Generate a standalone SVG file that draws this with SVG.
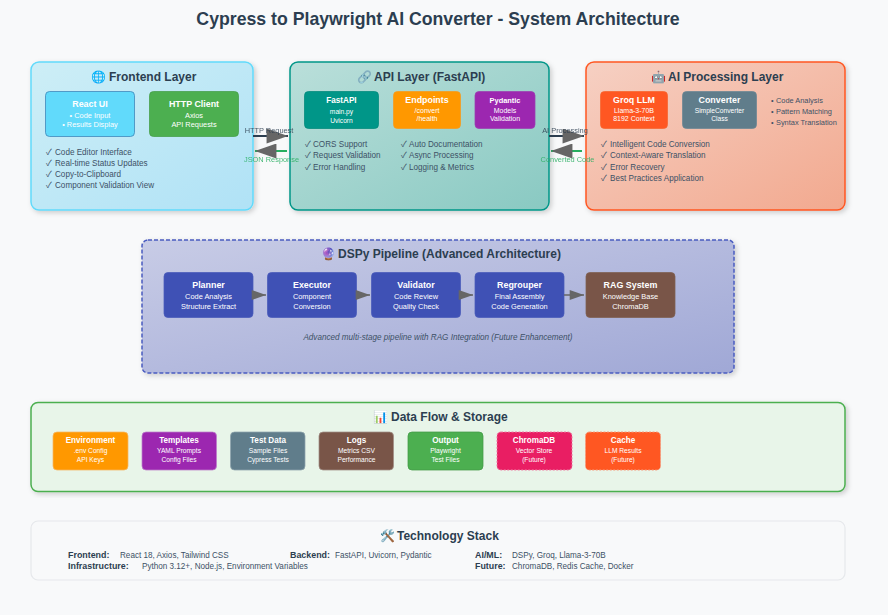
<svg xmlns="http://www.w3.org/2000/svg" width="888" height="615" viewBox="0 0 888 615">
<style>
text{font-family:"Liberation Sans",Arial,"Noto Color Emoji",sans-serif}
.c{text-anchor:middle}
.main{font-size:17.7px;font-weight:bold;fill:#2c3e50}
.h{font-size:12px;font-weight:bold;fill:#2c3e50}
.t{font-size:8.9px;font-weight:bold;fill:#fff;text-anchor:middle}
.t8{font-size:8.15px;font-weight:bold;fill:#fff;text-anchor:middle}
.s{font-size:6.67px;fill:#fff;text-anchor:middle}
.m{font-size:7.4px;fill:#fff;text-anchor:middle}
.e{font-size:7px;fill:#fff;text-anchor:middle}
.l{font-size:8.15px;fill:#3d5166}
.ck{font-family:"Noto Sans CJK JP","DejaVu Sans",sans-serif;font-size:8.5px}
.b{font-size:7.4px;fill:#3d5166}
.lb{font-size:7.4px;opacity:.85}
.k{font-size:8.9px;font-weight:bold;fill:#2c3e50}
.v{font-size:8.15px;fill:#3d5166}
.i{font-size:8.15px;font-style:italic;fill:#3d5166;text-anchor:middle}
.group{stroke-width:1.5;filter:url(#sh)}
.n{stroke-width:.75}
.fut{stroke-width:1;stroke-dasharray:2 1.500}
.conn{fill:none;stroke-width:2}
.pipe{fill:none;stroke:#666;stroke-width:1.500}
</style>
<defs>
<filter id="sh" x="-5%" y="-5%" width="110%" height="112%"><feDropShadow dx="2" dy="2" stdDeviation="2.5" flood-color="#000" flood-opacity=".18"/></filter>
<linearGradient id="gF" x1="0" y1="0" x2="1" y2="1"><stop offset="0" stop-color="#cdeef6"/><stop offset="1" stop-color="#b0e2f6"/></linearGradient>
<linearGradient id="gA" x1="0" y1="0" x2="1" y2="1"><stop offset="0" stop-color="#badfda"/><stop offset="1" stop-color="#89c9c2"/></linearGradient>
<linearGradient id="gP" x1="0" y1="0" x2="1" y2="1"><stop offset="0" stop-color="#f6d0c3"/><stop offset="1" stop-color="#f2a98f"/></linearGradient>
<linearGradient id="gD" x1="0" y1="0" x2="1" y2="1"><stop offset="0" stop-color="#c8cce6"/><stop offset="1" stop-color="#a0a8d6"/></linearGradient>
<marker id="ah" viewBox="0 0 10 7" refX="10" refY="3.500" markerUnits="userSpaceOnUse" markerWidth="22" markerHeight="15" orient="auto"><polygon points="0 0,10 3.500,0 7" fill="#666"/></marker>
<marker id="as" viewBox="0 0 10 7" refX="10" refY="3.500" markerUnits="userSpaceOnUse" markerWidth="15" markerHeight="10" orient="auto"><polygon points="0 0,10 3.500,0 7" fill="#666"/></marker>
</defs>
<rect width="888" height="615" fill="#f8f9fa"/>
<text class="main c" x="438" y="25">Cypress to Playwright AI Converter - System Architecture</text>

<g id="frontend-layer">
<rect class="group" x="31" y="62" width="222" height="148" rx="8" fill="url(#gF)" stroke="#61dafb"/>
<text class="h" x="91" y="81">🌐<tspan x="109">Frontend Layer</tspan></text>
<text class="l" x="46" y="155"><tspan class="ck">✓</tspan><tspan x="55">Code Editor Interface</tspan></text>
<text class="l" x="46" y="166"><tspan class="ck">✓</tspan><tspan x="55">Real-time Status Updates</tspan></text>
<text class="l" x="46" y="177"><tspan class="ck">✓</tspan><tspan x="55">Copy-to-Clipboard</tspan></text>
<text class="l" x="46" y="188"><tspan class="ck">✓</tspan><tspan x="55">Component Validation View</tspan></text>
</g>
<g id="react-ui"><rect class="n" x="45.500" y="91.500" width="89" height="45" rx="4" fill="#61dafb" stroke="#3b82b5"/><text class="t" x="90" y="107">React UI</text><text class="m" x="90" y="118">• Code Input</text><text class="m" x="90" y="127">• Results Display</text></g>
<g id="http-client"><rect class="n" x="149.500" y="91.500" width="89" height="45" rx="4" fill="#4caf50" stroke="#449e48"/><text class="t" x="194" y="107">HTTP Client</text><text class="m" x="194" y="118">Axios</text><text class="m" x="194" y="127">API Requests</text></g>

<g id="api-layer">
<rect class="group" x="290" y="62" width="259" height="148" rx="8" fill="url(#gA)" stroke="#009688"/>
<text class="h" x="357" y="81">🔗<tspan x="374">API Layer (FastAPI)</tspan></text>
<text class="l" x="305" y="147"><tspan class="ck">✓</tspan><tspan x="313">CORS Support</tspan></text>
<text class="l" x="305" y="158"><tspan class="ck">✓</tspan><tspan x="313">Request Validation</tspan></text>
<text class="l" x="305" y="170"><tspan class="ck">✓</tspan><tspan x="313">Error Handling</tspan></text>
<text class="l" x="401" y="147"><tspan class="ck">✓</tspan><tspan x="409">Auto Documentation</tspan></text>
<text class="l" x="401" y="158"><tspan class="ck">✓</tspan><tspan x="409">Async Processing</tspan></text>
<text class="l" x="401" y="170"><tspan class="ck">✓</tspan><tspan x="409">Logging &amp; Metrics</tspan></text>
</g>
<g id="fastapi"><rect class="n" x="304.500" y="91.500" width="74" height="37" rx="4" fill="#009688" stroke="#00897b"/><text class="t8" x="341.500" y="103">FastAPI</text><text class="s" x="341.500" y="114">main.py</text><text class="s" x="341.500" y="123">Uvicorn</text></g>
<g id="endpoints"><rect class="n" x="393.500" y="91.500" width="67" height="37" rx="4" fill="#ff9800" stroke="#f59a1c"/><text class="t" x="427" y="103">Endpoints</text><text class="e" x="427" y="113">/convert</text><text class="e" x="427" y="121">/health</text></g>
<g id="pydantic"><rect class="n" x="475" y="91.500" width="60" height="37" rx="4" fill="#9c27b0" stroke="#9c3fb0"/><text class="t8" x="505" y="103" style="font-size:7.4px">Pydantic</text><text class="e" x="505" y="113">Models</text><text class="e" x="505" y="121">Validation</text></g>

<g id="ai-layer">
<rect class="group" x="586" y="62" width="259" height="148" rx="8" fill="url(#gP)" stroke="#ff5722"/>
<text class="h" x="651" y="81">🤖<tspan x="668">AI Processing Layer</tspan></text>
<text class="b" x="771" y="103">•<tspan x="776">Code Analysis</tspan></text>
<text class="b" x="771" y="114">•<tspan x="776">Pattern Matching</tspan></text>
<text class="b" x="771" y="125">•<tspan x="776">Syntax Translation</tspan></text>
<text class="l" x="601" y="147"><tspan class="ck">✓</tspan><tspan x="610">Intelligent Code Conversion</tspan></text>
<text class="l" x="601" y="158"><tspan class="ck">✓</tspan><tspan x="610">Context-Aware Translation</tspan></text>
<text class="l" x="601" y="170"><tspan class="ck">✓</tspan><tspan x="610">Error Recovery</tspan></text>
<text class="l" x="601" y="181"><tspan class="ck">✓</tspan><tspan x="610">Best Practices Application</tspan></text>
</g>
<g id="groq-llm"><rect class="n" x="600.500" y="91.500" width="67" height="37" rx="4" fill="#ff5722" stroke="#f5652f"/><text class="t" x="634" y="103">Groq LLM</text><text class="e" x="634" y="113">Llama-3-70B</text><text class="e" x="634" y="121">8192 Context</text></g>
<g id="converter"><rect class="n" x="682.500" y="91.500" width="74" height="37" rx="4" fill="#607d8b" stroke="#6b8794"/><text class="t" x="719.500" y="103">Converter</text><text class="s" x="719.500" y="113">SimpleConverter</text><text class="s" x="719.500" y="121">Class</text></g>

<g id="dspy-pipeline">
<rect class="group" x="142" y="240" width="592" height="133" rx="6" fill="url(#gD)" stroke="#4a5cc0" stroke-dasharray="4 2"/>
<text class="h" x="321" y="258">🔮<tspan x="338">DSPy Pipeline (Advanced Architecture)</tspan></text>
<text class="i" x="438" y="340">Advanced multi-stage pipeline with RAG Integration (Future Enhancement)</text>
</g>
<g id="planner"><rect class="n" x="164" y="272.500" width="89" height="45" rx="4" fill="#3f51b5" stroke="#4a5bba"/><text class="t" x="208.500" y="288">Planner</text><text class="m" x="208.500" y="299">Code Analysis</text><text class="m" x="208.500" y="309">Structure Extract</text></g>
<g id="executor"><rect class="n" x="267.500" y="272.500" width="89" height="45" rx="4" fill="#3f51b5" stroke="#4a5bba"/><text class="t" x="312" y="288">Executor</text><text class="m" x="312" y="299">Component</text><text class="m" x="312" y="309">Conversion</text></g>
<g id="validator"><rect class="n" x="371.500" y="272.500" width="89" height="45" rx="4" fill="#3f51b5" stroke="#4a5bba"/><text class="t" x="416" y="288">Validator</text><text class="m" x="416" y="299">Code Review</text><text class="m" x="416" y="309">Quality Check</text></g>
<g id="regrouper"><rect class="n" x="475" y="272.500" width="89" height="45" rx="4" fill="#3f51b5" stroke="#4a5bba"/><text class="t" x="519.500" y="288">Regrouper</text><text class="m" x="519.500" y="299">Final Assembly</text><text class="m" x="519.500" y="309">Code Generation</text></g>
<g id="rag-system"><rect class="n" x="586" y="272.500" width="89" height="45" rx="4" fill="#795548" stroke="#7f6052"/><text class="t" x="630.500" y="288">RAG System</text><text class="m" x="630.500" y="299">Knowledge Base</text><text class="m" x="630.500" y="309">ChromaDB</text></g>

<g id="data-flow">
<rect class="group" x="31" y="402.500" width="814" height="89" rx="7" fill="#e8f5e9" stroke="#4caf50"/>
<text class="h" x="373" y="421">📊<tspan x="391">Data Flow &amp; Storage</tspan></text>
</g>
<g id="environment"><rect class="n" x="53" y="432" width="75" height="38" rx="4" fill="#ff9800" stroke="#f5b563"/><text class="t8" x="90.500" y="443">Environment</text><text class="s" x="90.500" y="453">.env Config</text><text class="s" x="90.500" y="462">API Keys</text></g>
<g id="templates"><rect class="n" x="142" y="432" width="74.500" height="38" rx="4" fill="#9c27b0" stroke="#bd7ecb"/><text class="t8" x="179" y="443">Templates</text><text class="s" x="179" y="453">YAML Prompts</text><text class="s" x="179" y="462">Config Files</text></g>
<g id="test-data"><rect class="n" x="230.500" y="432" width="74.500" height="38" rx="4" fill="#607d8b" stroke="#8fa4ae"/><text class="t8" x="268" y="443">Test Data</text><text class="s" x="268" y="453">Sample Files</text><text class="s" x="268" y="462">Cypress Tests</text></g>
<g id="logs"><rect class="n" x="319" y="432" width="74.500" height="38" rx="4" fill="#795548" stroke="#a18f87"/><text class="t8" x="356.500" y="443">Logs</text><text class="s" x="356.500" y="453">Metrics CSV</text><text class="s" x="356.500" y="462">Performance</text></g>
<g id="output"><rect class="n" x="408" y="432" width="75" height="38" rx="4" fill="#4caf50" stroke="#439a47"/><text class="t8" x="445.500" y="443">Output</text><text class="s" x="445.500" y="453">Playwright</text><text class="s" x="445.500" y="462">Test Files</text></g>
<g id="chromadb"><rect class="fut" x="497" y="432" width="75" height="38" rx="4" fill="#e91e63" stroke="#ee7ca3"/><text class="t8" x="534" y="443">ChromaDB</text><text class="s" x="534" y="453">Vector Store</text><text class="s" x="534" y="462">(Future)</text></g>
<g id="cache"><rect class="fut" x="585.500" y="432" width="75" height="38" rx="4" fill="#ff5722" stroke="#f59a7c"/><text class="t8" x="623" y="443">Cache</text><text class="s" x="623" y="453">LLM Results</text><text class="s" x="623" y="462">(Future)</text></g>

<g id="technology-stack">
<rect x="31" y="521" width="814" height="59" rx="7" fill="#f8f9fa" stroke="#e6e8eb" stroke-width="1.200"/>
<text class="h" x="380" y="540">🛠️<tspan x="397">Technology Stack</tspan></text>
<text class="k" x="68" y="558">Frontend:</text><text class="v" x="120" y="558">React 18, Axios, Tailwind CSS</text>
<text class="k" x="290" y="558">Backend:</text><text class="v" x="335" y="558">FastAPI, Uvicorn, Pydantic</text>
<text class="k" x="475" y="558">AI/ML:</text><text class="v" x="512" y="558">DSPy, Groq, Llama-3-70B</text>
<text class="k" x="68" y="569">Infrastructure:</text><text class="v" x="142" y="569">Python 3.12+, Node.js, Environment Variables</text>
<text class="k" x="475" y="569">Future:</text><text class="v" x="512" y="569">ChromaDB, Redis Cache, Docker</text>
</g>

<g id="connectors">
<path class="conn" d="M253 136H288" stroke="#2c3e50" marker-end="url(#ah)"/>
<path class="conn" d="M287 151H255" stroke="#27ae60" marker-end="url(#ah)"/>
<path class="conn" d="M549 136H584" stroke="#2c3e50" marker-end="url(#ah)"/>
<path class="conn" d="M582 151H551" stroke="#27ae60" marker-end="url(#ah)"/>
<path class="pipe" d="M253 295H266" marker-end="url(#as)"/>
<path class="pipe" d="M357 295H370" marker-end="url(#as)"/>
<path class="pipe" d="M461 295H473" marker-end="url(#as)"/>
<path class="pipe" d="M564 295H584" marker-end="url(#as)"/>
<text class="lb c" x="269" y="133" fill="#2c3e50">HTTP Request</text>
<text class="lb c" x="271.500" y="162" fill="#27ae60">JSON Response</text>
<text class="lb c" x="565" y="133" fill="#2c3e50">AI Processing</text>
<text class="lb c" x="567.500" y="162" fill="#27ae60">Converted Code</text>
</g>
</svg>
